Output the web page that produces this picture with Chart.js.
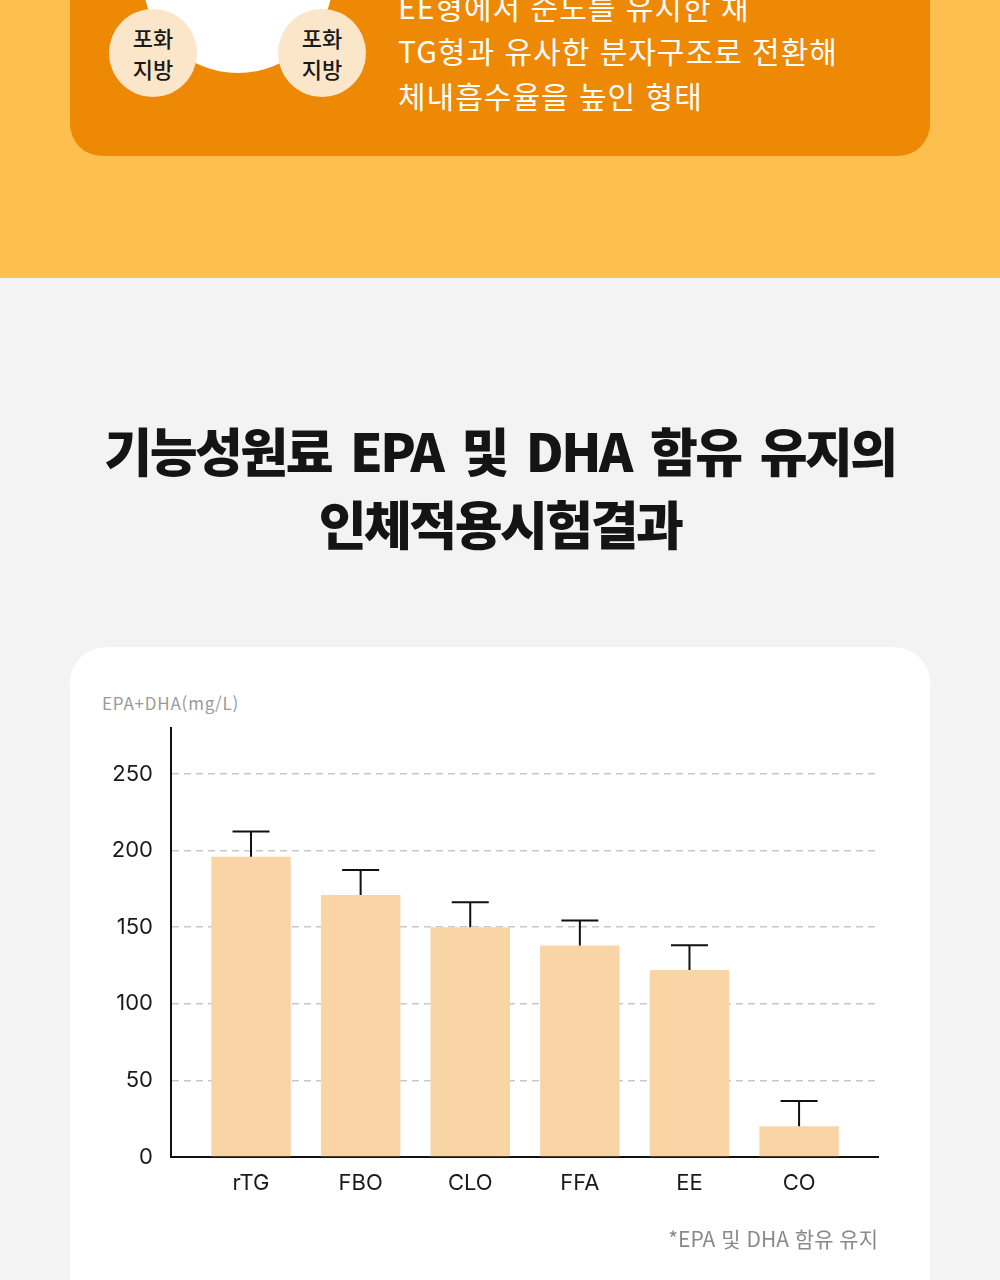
<!DOCTYPE html>
<html lang="ko">
<head>
<meta charset="utf-8">
<script src="https://cdn.jsdelivr.net/npm/chart.js@4"></script>
<style>
  html, body { margin:0; padding:0; }
  body { width:1000px; height:1280px; overflow:hidden; position:relative; background:#F3F3F3; font-family:"Noto Sans CJK KR","Noto Sans",sans-serif; }
  .top { position:absolute; left:0; top:0; width:1000px; height:278px; background:#FDBF4E; overflow:hidden; }
  .orange { position:absolute; left:70px; top:-60px; width:860px; height:216px; background:#EE8905; border-radius:32px; overflow:hidden; }
  .bigc { position:absolute; left:143px; top:-117px; width:190px; height:190px; border-radius:50%; background:#fff; }
  .smallc { position:absolute; width:88px; height:88px; border-radius:50%; background:#FCE6CA; color:#1a1a1a; font-size:22px; line-height:31px; font-weight:500; text-align:center; display:flex; align-items:center; justify-content:center; top:9px; }
  .desc { position:absolute; left:398px; color:#fff; font-size:30px; font-weight:400; white-space:nowrap; letter-spacing:1px; }
  .title { position:absolute; left:0; width:1000px; text-align:center; font-size:52px; font-weight:900; color:#141414; letter-spacing:-2.5px; word-spacing:7px; white-space:nowrap; }
  .card { position:absolute; left:70px; top:647px; width:860px; height:700px; background:#fff; border-radius:36px; }
  .ytitle { position:absolute; left:102px; top:691px; font-size:17px; color:#9a9a9a; white-space:nowrap; line-height:24px; letter-spacing:0.8px; }
  .note { position:absolute; right:122px; top:1224px; font-size:21px; color:#8a8a8a; white-space:nowrap; line-height:28px; }
  .chartbox { position:absolute; left:70px; top:647px; width:860px; height:633px; }
</style>
</head>
<body>
<div class="top">
  <div class="orange"></div>
  <div class="bigc"></div>
  <div class="smallc" style="left:109px;">포화<br>지방</div>
  <div class="smallc" style="left:278px;">포화<br>지방</div>
  <div class="desc" style="top:-16px;">EE형에서 순도를 유지한 채</div>
  <div class="desc" style="top:28px;">TG형과 유사한 분자구조로 전환해</div>
  <div class="desc" style="top:73px;">체내흡수율을 높인 형태</div>
</div>
<div class="title" style="top:412px;">기능성원료 EPA 및 DHA 함유 유지의</div>
<div class="title" style="top:485px;">인체적용시험결과</div>
<div class="card"></div>
<div class="ytitle">EPA+DHA(mg/L)</div>
<div class="chartbox"><canvas id="c"></canvas></div>
<div class="note">*EPA 및 DHA 함유 유지</div>
<script>
const categories = ['rTG', 'FBO', 'CLO', 'FFA', 'EE', 'CO'];
const values = [196, 171, 150, 138, 122, 20];
const errors = [16.5, 16.4, 16.3, 16.4, 16.2, 16.5];
const yTickValues = [0, 50, 100, 150, 200, 250];

const errorBars = {
  id: 'errorBars',
  afterDatasetsDraw(chart) {
    const meta = chart.getDatasetMeta(0);
    const y = chart.scales.y;
    const ctx = chart.ctx;
    ctx.save();
    ctx.strokeStyle = '#111';
    ctx.lineWidth = 2;
    meta.data.forEach((bar, i) => {
      const top = y.getPixelForValue(values[i] + errors[i]);
      const base = y.getPixelForValue(values[i]);
      ctx.beginPath();
      ctx.moveTo(bar.x, base);
      ctx.lineTo(bar.x, top);
      ctx.moveTo(bar.x - 18.5, top);
      ctx.lineTo(bar.x + 18.5, top);
      ctx.stroke();
    });
    ctx.restore();
  }
};

const tickFont = { family: 'Inter, "Noto Sans", sans-serif', size: 22 };

new Chart(document.getElementById('c'), {
  type: 'bar',
  data: {
    datasets: [{
      data: categories.map((c, i) => ({ x: i, y: values[i] })),
      backgroundColor: '#F9D5A6',
      categoryPercentage: 1,
      barPercentage: 0.725
    }]
  },
  plugins: [errorBars],
  options: {
    responsive: true,
    maintainAspectRatio: false,
    animation: false,
    layout: { padding: { left: 0, right: 52, top: 81, bottom: 73 } },
    plugins: { legend: { display: false }, tooltip: { enabled: false } },
    scales: {
      x: {
        type: 'linear',
        offset: false,
        min: -0.73,
        max: 5.72,
        afterBuildTicks: s => { s.ticks = categories.map((c, i) => ({ value: i })); },
        afterFit: s => { s.height = 50; },
        ticks: {
          callback: v => categories[v],
          autoSkip: false, maxRotation: 0,
          color: '#1a1a1a',
          font: tickFont,
          padding: 13
        },
        grid: { display: false, drawTicks: false, offset: false },
        border: { display: true, color: '#111', width: 2 }
      },
      y: {
        min: 0,
        max: 280,
        afterBuildTicks: s => { s.ticks = yTickValues.map(v => ({ value: v })); },
        afterFit: s => { s.width = 101; },
        ticks: {
          color: '#1a1a1a',
          font: tickFont,
          padding: 18
        },
        grid: {
          drawTicks: false,
          lineWidth: 1.5,
          color: ctx => (ctx.tick && ctx.tick.value === 0) ? 'rgba(0,0,0,0)' : '#C8C8C8'
        },
        border: { display: true, color: '#111', width: 2, dash: [7, 5] }
      }
    }
  }
});
</script>
</body>
</html>
